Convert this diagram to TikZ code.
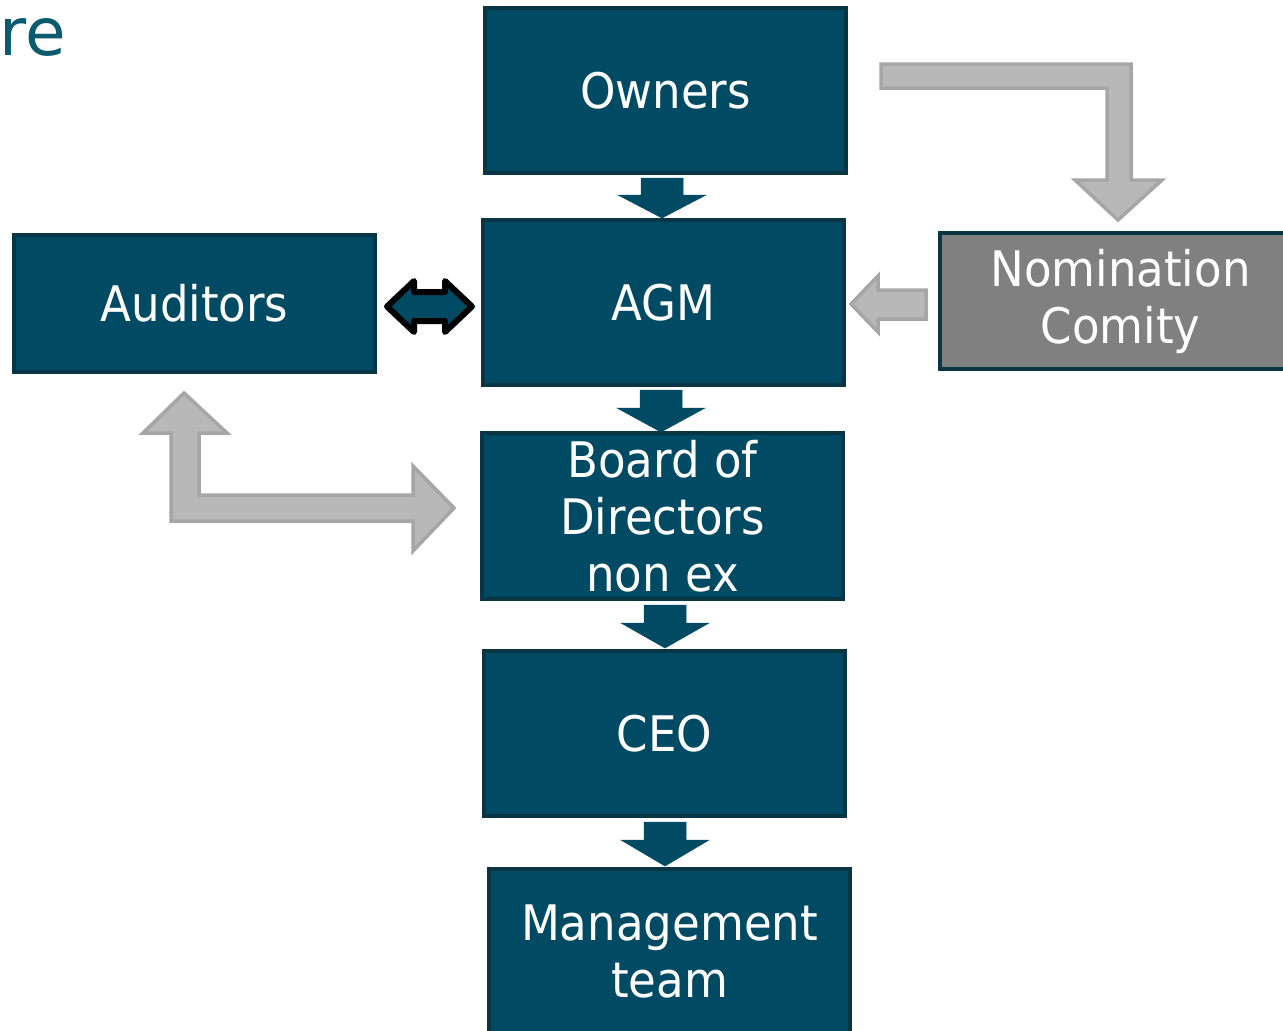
\documentclass[tikz,border=0pt]{standalone}
\usepackage{fontspec}
\setmainfont{DejaVu Sans}[FakeStretch=0.92]
\newfontfamily\titlefont{DejaVu Sans}
\definecolor{tealf}{HTML}{004B63}
\definecolor{tealb}{HTML}{0A3545}
\definecolor{grayf}{HTML}{808080}
\definecolor{arrg}{HTML}{A6A6A6}
\definecolor{arrf}{HTML}{B8B8B8}
\definecolor{titlec}{HTML}{0B5A6E}
\tikzset{
  orgbox/.style={draw=tealb, line width=3.5pt, fill=tealf, text=white, inner sep=0pt,
    align=center, font=\fontsize{49}{57}\selectfont, minimum width=361pt},
  downarr/.style={fill=tealf, draw=tealf, line width=0.5pt},
  dblarr/.style={fill=tealf, draw=black, line width=6pt, line join=round},
  grayarr/.style={fill=arrf, draw=arrg, line width=3.5pt, line join=miter},
}
\begin{document}
\begin{tikzpicture}[x=1pt,y=-1pt]
\useasboundingbox (0,0) rectangle (1283,1031);

\node[anchor=base east, text=titlec, font=\titlefont\fontsize{66}{72}\selectfont, inner sep=0pt] (title) at (66,55) {re};

% boxes
\node[orgbox, minimum height=165pt] (owners) at (665.5,90.5) {Owners};
\node[orgbox, minimum height=165pt] (agm) at (663.5,302.5) {AGM};
\node[orgbox, minimum height=137pt] (aud) at (194.5,303.5) {Auditors};
\node[orgbox, fill=grayf, minimum height=136pt] (nom) at (1120.5,301) {Nomination\\Comity};
\node[orgbox, minimum height=166pt] (board) at (662.5,516) {Board of\\Directors\\non ex};
\node[orgbox, minimum height=165pt] (ceo) at (664.5,733.5) {CEO};
\node[orgbox, minimum height=165pt] (mgmt) at (669.5,951.5) {Management\\team};

% teal down arrows
\draw[downarr] (641,178) -- (683,178) -- (683,195) -- (706,195) -- (662,218) -- (618,195) -- (641,195) -- cycle;
\draw[downarr] (640,390) -- (682,390) -- (682,408) -- (705,408) -- (661,432) -- (617,408) -- (640,408) -- cycle;
\draw[downarr] (644,605) -- (686,605) -- (686,623) -- (709,623) -- (665,648) -- (621,623) -- (644,623) -- cycle;
\draw[downarr] (644,822) -- (686,822) -- (686,840) -- (709,840) -- (665,866) -- (621,840) -- (644,840) -- cycle;

% double arrow between Auditors and AGM
\draw[dblarr] (387,306.5) -- (414,281) -- (414,292) -- (445,292) -- (445,281) -- (472,306.5)
  -- (445,332) -- (445,321) -- (414,321) -- (414,332) -- cycle;

% gray arrow Owners -> Nomination
\draw[grayarr] (881,64) -- (1131,64) -- (1131,180) -- (1162,180) -- (1118,220) -- (1075,180)
  -- (1107,180) -- (1107,88) -- (881,88) -- cycle;

% gray arrow Nomination -> AGM
\draw[grayarr] (851,304) -- (878,276) -- (878,290) -- (926,290) -- (926,319) -- (878,319) -- (878,332) -- cycle;

% gray L-arrow Auditors <-> Board
\draw[grayarr] (184,393) -- (227,433) -- (199,433) -- (199,495) -- (413,495) -- (413,466)
  -- (454,508) -- (413,551) -- (413,521) -- (171,521) -- (171,433) -- (143,433) -- cycle;
\end{tikzpicture}
\end{document}
